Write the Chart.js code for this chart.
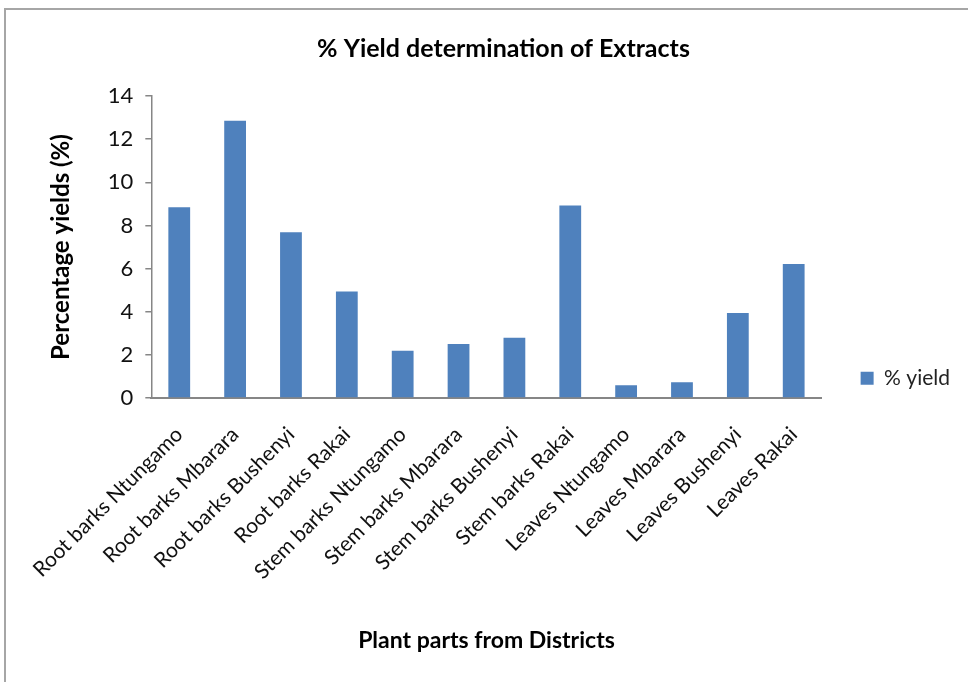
<!DOCTYPE html>
<html>
<head>
<meta charset="utf-8">
<script src="https://cdn.jsdelivr.net/npm/chart.js@4.4.1/dist/chart.umd.min.js"></script>
<style>
  html, body { margin: 0; padding: 0; background: #fff; overflow: hidden; }
  #wrap { position: relative; width: 968px; height: 682px; }
  #frame {
    position: absolute; left: 4px; top: 8px; width: 990px; height: 700px;
    border: 2px solid #a6a6a6; box-sizing: border-box; pointer-events: none;
  }
  canvas { position: absolute; left: 0; top: 0; }
</style>
</head>
<body>
<div id="wrap">
  <canvas id="yieldChart" width="968" height="682"></canvas>
  <div id="frame"></div>
</div>
<script>
// Data
const categories = [
  "Root barks Ntungamo", "Root barks Mbarara", "Root barks Bushenyi", "Root barks Rakai",
  "Stem barks Ntungamo", "Stem barks Mbarara", "Stem barks Bushenyi", "Stem barks Rakai",
  "Leaves Ntungamo", "Leaves Mbarara", "Leaves Bushenyi", "Leaves Rakai"
];
const yieldValues = [8.84, 12.85, 7.69, 4.94, 2.19, 2.51, 2.8, 8.93, 0.6, 0.73, 3.94, 6.22];
const yTicks = [0, 2, 4, 6, 8, 10, 12, 14];

const FONT = "Lato, 'Open Sans', sans-serif";
const AXIS_GRAY = "#868686";

const ctx = document.getElementById("yieldChart");

new Chart(ctx, {
  type: "bar",
  data: {
    labels: categories,
    datasets: [
      {
        label: "% yield",
        data: yieldValues,
        backgroundColor: "#4F81BD",
        borderWidth: 0,
        barPercentage: 0.39,
        categoryPercentage: 1,
      },
    ],
  },
  options: {
    responsive: false,
    animation: false,
    layout: {
      padding: { left: 47, right: 8, top: 0, bottom: 28 },
    },
    plugins: {
      title: {
        display: true,
        text: "% Yield determination of Extracts",
        color: "#000",
        font: { family: FONT, size: 25, weight: "bold" },
        padding: { top: 34, bottom: 32 },
      },
      legend: {
        position: "right",
        labels: {
          boxWidth: 13,
          boxHeight: 13,
          padding: 39,
          color: "#222",
          font: { family: FONT, size: 21 },
        },
        // empty title only used to push the legend item down
        title: { display: true, text: "", padding: { top: 44, bottom: 44 } },
      },
      tooltip: { enabled: false },
    },
    scales: {
      x: {
        grid: { display: false },
        border: { color: AXIS_GRAY, width: 2 },
        ticks: {
          color: "#111",
          font: { family: FONT, size: 21 },
          maxRotation: 45,
          minRotation: 45,
          autoSkip: false,
          padding: 16,
        },
        title: {
          display: true,
          text: "Plant parts from Districts",
          color: "#000",
          font: { family: FONT, size: 23, weight: "bold" },
          padding: { top: 26, bottom: 0 },
        },
      },
      y: {
        min: 0,
        max: 14,
        afterBuildTicks: (axis) => {
          axis.ticks = yTicks.map(v => ({ value: v }));
        },
        grid: {
          drawOnChartArea: false,
          drawTicks: true,
          tickLength: 6,
          color: AXIS_GRAY,
          lineWidth: 1.5,
        },
        border: { color: AXIS_GRAY, width: 1.5 },
        ticks: {
          color: "#111",
          font: { family: FONT, size: 22 },
          padding: 12,
        },
        title: {
          display: true,
          text: "Percentage yields (%)",
          color: "#000",
          font: { family: FONT, size: 24, weight: "bold" },
          padding: { top: 0, bottom: 20 },
        },
      },
    },
  },
});
</script>
</body>
</html>
